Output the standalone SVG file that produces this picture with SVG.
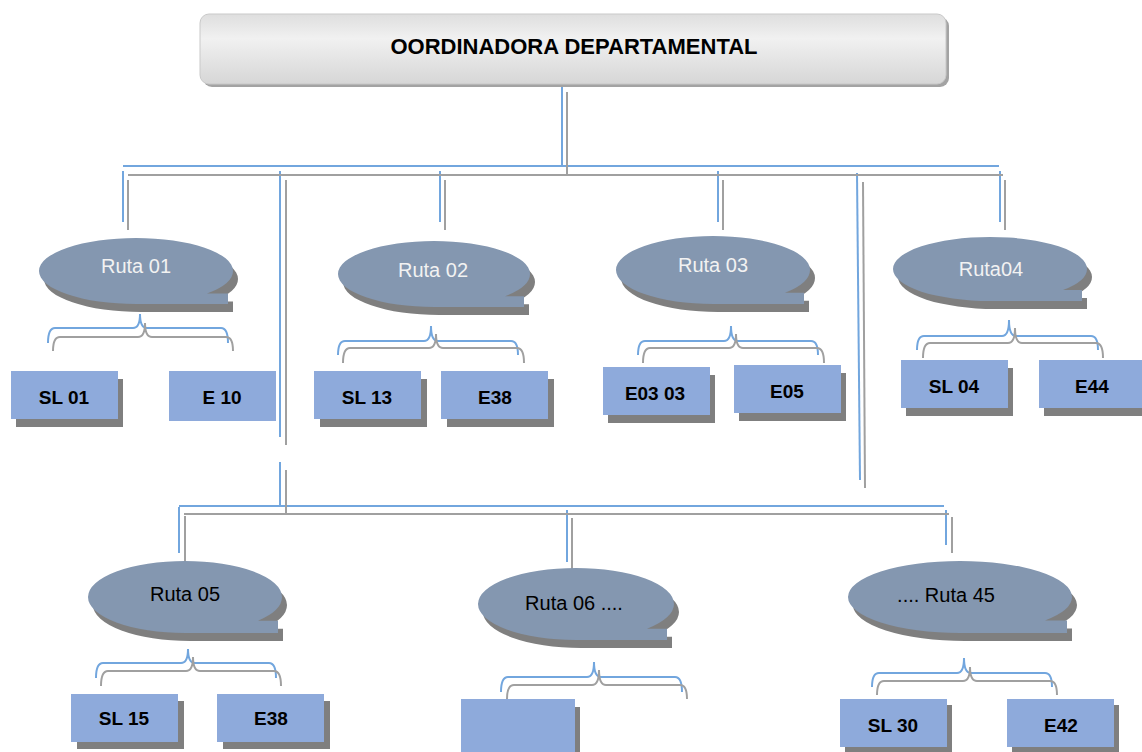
<svg xmlns="http://www.w3.org/2000/svg" width="1142" height="752" viewBox="0 0 1142 752">
<style>
.b{stroke:#72a6de;stroke-width:2;fill:none}
.g{stroke:#a0a0a0;stroke-width:2;fill:none}
.sh{fill:#7f7f7f}
.ell{fill:#8497b0}
.box{fill:#8eaadb}
.lbl{font-family:"Liberation Sans",Arial,sans-serif;font-weight:bold;font-size:19px;text-anchor:middle;fill:#000}
.rt{font-family:"Liberation Sans",Arial,sans-serif;font-size:20px;text-anchor:middle}
.w{fill:#f2f2f2}
.k{fill:#000}
</style>
<defs>
<linearGradient id="tg" x1="0" y1="0" x2="0" y2="1">
<stop offset="0" stop-color="#dedede"/>
<stop offset="0.35" stop-color="#f1f1f1"/>
<stop offset="1" stop-color="#d6d6d6"/>
</linearGradient>
<path id="p01" d="M39,271 A97,33 0 0 1 233,271 A97,33 0 0 1 207,293.5 L228,293.5 L228,304 L136,304 A97,33 0 0 1 39,271 Z"/>
<path id="p02" d="M338,274 A96,33 0 0 1 530,274 A96,33 0 0 1 505,296.2 L524,296.2 L524,307 L434,307 A96,33 0 0 1 338,274 Z"/>
<path id="p03" d="M616,270 A97,34 0 0 1 810,270 A97,34 0 0 1 785,292.8 L804,292.8 L804,304 L713,304 A97,34 0 0 1 616,270 Z"/>
<path id="p04" d="M893,269 A97,32 0 0 1 1087,269 A97,32 0 0 1 1063,290.1 L1082,290.1 L1082,301 L990,301 A97,32 0 0 1 893,269 Z"/>
<path id="p05" d="M88,597 A97,36 0 0 1 282,597 A97,36 0 0 1 258,620.7 L278,620.7 L278,633 L185,633 A97,36 0 0 1 88,597 Z"/>
<path id="p06" d="M478,604 A98,36 0 0 1 674,604 A98,36 0 0 1 647,628.8 L667,628.8 L667,640 L576,640 A98,36 0 0 1 478,604 Z"/>
<path id="p45" d="M848,597 A112,36 0 0 1 1072,597 A112,36 0 0 1 1045,620.4 L1067,620.4 L1067,633 L960,633 A112,36 0 0 1 848,597 Z"/>
</defs>
<rect width="1142" height="752" fill="#fff"/>
<g id="connectors">
<line class="b" x1="562" y1="86" x2="562" y2="166"/>
<line class="b" x1="123" y1="166" x2="999" y2="166"/>
<line class="b" x1="123" y1="171" x2="123" y2="222"/>
<line class="b" x1="440" y1="171" x2="440" y2="222"/>
<line class="b" x1="718" y1="171" x2="718" y2="222"/>
<line class="b" x1="1000" y1="171" x2="1000" y2="222"/>
<line class="b" x1="280" y1="171" x2="280" y2="437"/>
<line class="b" x1="280" y1="462" x2="280" y2="506"/>
<line class="b" x1="857" y1="173" x2="860" y2="480"/>
<line class="b" x1="179" y1="506" x2="944" y2="506"/>
<line class="b" x1="179" y1="507" x2="179" y2="553"/>
<line class="b" x1="567" y1="510" x2="567" y2="562"/>
<line class="b" x1="946" y1="510" x2="946" y2="545"/>
<line class="g" x1="567" y1="92" x2="567" y2="175"/>
<line class="g" x1="128" y1="175" x2="1003" y2="175"/>
<line class="g" x1="128" y1="180" x2="128" y2="230"/>
<line class="g" x1="445" y1="180" x2="445" y2="230"/>
<line class="g" x1="723" y1="180" x2="723" y2="230"/>
<line class="g" x1="1005" y1="180" x2="1005" y2="230"/>
<line class="g" x1="286" y1="180" x2="286" y2="445"/>
<line class="g" x1="286" y1="470" x2="286" y2="514"/>
<line class="g" x1="863" y1="182" x2="865" y2="488"/>
<line class="g" x1="184" y1="514" x2="949" y2="514"/>
<line class="g" x1="185" y1="516" x2="185" y2="561"/>
<line class="g" x1="572" y1="518" x2="572" y2="569"/>
<line class="g" x1="952" y1="517" x2="952" y2="553"/>
<path class="b" d="M48,343 Q48,328 55,328 L133,328 Q140,328 140,314 Q140,328 147,328 L221,328 Q228,328 228,343"/>
<path class="g" d="M53,351 Q53,337 60,337 L138,337 Q145,337 145,323 Q145,337 152,337 L226,337 Q233,337 233,351"/>
<path class="b" d="M338,355 Q338,341 345,341 L424,341 Q431,341 431,326 Q431,341 438,341 L511,341 Q518,341 518,355"/>
<path class="g" d="M343,363 Q343,348 350,348 L429,348 Q436,348 436,334 Q436,348 443,348 L517,348 Q524,348 524,363"/>
<path class="b" d="M638,355 Q638,341 645,341 L724,341 Q731,341 731,326 Q731,341 738,341 L811,341 Q818,341 818,355"/>
<path class="g" d="M643,363 Q643,348 650,348 L729,348 Q736,348 736,334 Q736,348 743,348 L817,348 Q824,348 824,363"/>
<path class="b" d="M917,350 Q917,336 924,336 L1002,336 Q1009,336 1009,320 Q1009,336 1016,336 L1091,336 Q1098,336 1098,350"/>
<path class="g" d="M923,358 Q923,343 930,343 L1008,343 Q1015,343 1015,328 Q1015,343 1022,343 L1096,343 Q1103,343 1103,358"/>
<path class="b" d="M96,678 Q96,663 103,663 L181,663 Q188,663 188,649 Q188,663 195,663 L269,663 Q276,663 276,678"/>
<path class="g" d="M101,686 Q101,671 108,671 L186,671 Q193,671 193,657 Q193,671 200,671 L274,671 Q281,671 281,686"/>
<path class="b" d="M501,692 Q501,677 508,677 L587,677 Q594,677 594,662 Q594,677 601,677 L675,677 Q682,677 682,692"/>
<path class="g" d="M507,699 Q507,685 514,685 L592,685 Q599,685 599,670 Q599,685 606,685 L680,685 Q687,685 687,699"/>
<path class="b" d="M872,687 Q872,673 879,673 L957,673 Q964,673 964,658 Q964,673 971,673 L1045,673 Q1052,673 1052,687"/>
<path class="g" d="M877,695 Q877,681 884,681 L963,681 Q970,681 970,667 Q970,681 977,681 L1050,681 Q1057,681 1057,695"/>
</g>
<g id="title">
<rect x="203" y="17" width="746" height="70" rx="9" fill="#a3a3a3"/>
<rect x="200" y="14" width="746" height="70" rx="9" fill="url(#tg)" stroke="#c9c9c9" stroke-width="1"/>
<text x="574" y="54" font-family="'Liberation Sans',Arial,sans-serif" font-weight="bold" font-size="22" text-anchor="middle" fill="#000">OORDINADORA DEPARTAMENTAL</text>
</g>
<g id="ruta01">
<use href="#p01" class="sh" transform="translate(5,8)"/><use href="#p01" class="ell"/>
<text class="rt w" x="136" y="273">Ruta 01</text>
</g>
<g id="ruta02">
<use href="#p02" class="sh" transform="translate(5,8)"/><use href="#p02" class="ell"/>
<text class="rt w" x="433" y="277">Ruta 02</text>
</g>
<g id="ruta03">
<use href="#p03" class="sh" transform="translate(5,8)"/><use href="#p03" class="ell"/>
<text class="rt w" x="713" y="272">Ruta 03</text>
</g>
<g id="ruta04">
<use href="#p04" class="sh" transform="translate(5,8)"/><use href="#p04" class="ell"/>
<text class="rt w" x="991" y="276">Ruta04</text>
</g>
<g id="ruta05">
<use href="#p05" class="sh" transform="translate(5,8)"/><use href="#p05" class="ell"/>
<text class="rt k" x="185" y="601">Ruta 05</text>
</g>
<g id="ruta06">
<use href="#p06" class="sh" transform="translate(5,8)"/><use href="#p06" class="ell"/>
<text class="rt k" x="574" y="610">Ruta 06 ....</text>
</g>
<g id="ruta45">
<use href="#p45" class="sh" transform="translate(5,8)"/><use href="#p45" class="ell"/>
<text class="rt k" x="946" y="602">.... Ruta 45</text>
</g>
<g id="sl01"><rect class="sh" x="16" y="379" width="107" height="48"/><rect class="box" x="11" y="371" width="107" height="48"/><text class="lbl" x="64" y="404">SL 01</text></g>
<g id="e10"><rect class="box" x="169" y="371" width="107" height="50"/><text class="lbl" x="222" y="404">E 10</text></g>
<g id="sl13"><rect class="sh" x="320" y="379" width="107" height="48"/><rect class="box" x="314" y="371" width="107" height="48"/><text class="lbl" x="367" y="404">SL 13</text></g>
<g id="e38a"><rect class="sh" x="447" y="379" width="107" height="48"/><rect class="box" x="441" y="371" width="107" height="48"/><text class="lbl" x="495" y="404">E38</text></g>
<g id="e0303"><rect class="sh" x="608" y="375" width="107" height="48"/><rect class="box" x="603" y="367" width="107" height="48"/><text class="lbl" x="655" y="400">E03 03</text></g>
<g id="e05"><rect class="sh" x="739" y="373" width="107" height="48"/><rect class="box" x="734" y="365" width="107" height="48"/><text class="lbl" x="787" y="398">E05</text></g>
<g id="sl04"><rect class="sh" x="906" y="368" width="107" height="48"/><rect class="box" x="901" y="360" width="107" height="48"/><text class="lbl" x="954" y="393">SL 04</text></g>
<g id="e44"><rect class="sh" x="1044" y="368" width="107" height="48"/><rect class="box" x="1039" y="360" width="107" height="48"/><text class="lbl" x="1092" y="393">E44</text></g>
<g id="sl15"><rect class="sh" x="77" y="701" width="107" height="48"/><rect class="box" x="71" y="694" width="107" height="48"/><text class="lbl" x="124" y="725">SL 15</text></g>
<g id="e38b"><rect class="sh" x="223" y="701" width="107" height="48"/><rect class="box" x="217" y="694" width="107" height="48"/><text class="lbl" x="271" y="725">E38</text></g>
<g id="blank"><rect class="sh" x="466" y="707" width="114" height="60"/><rect class="box" x="461" y="699" width="114" height="60"/></g>
<g id="sl30"><rect class="sh" x="845" y="705" width="107" height="48"/><rect class="box" x="840" y="699" width="107" height="48"/><text class="lbl" x="893" y="732">SL 30</text></g>
<g id="e42"><rect class="sh" x="1012" y="705" width="107" height="48"/><rect class="box" x="1007" y="699" width="107" height="48"/><text class="lbl" x="1061" y="732">E42</text></g>
</svg>
